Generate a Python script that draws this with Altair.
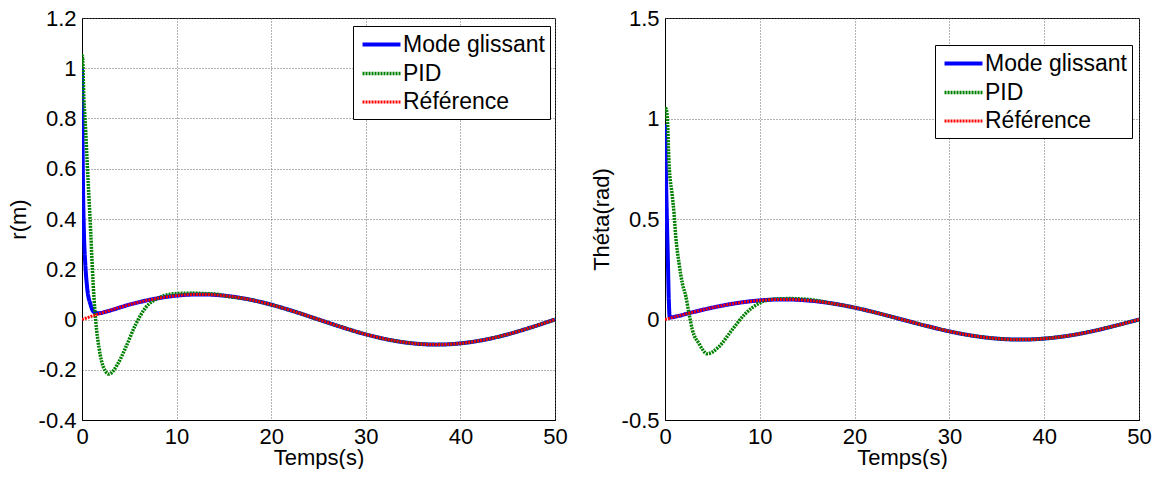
import altair as alt
import pandas as pd

SERIES = ["Mode glissant", "PID", "Référence"]
COLORS = ["#0000ff", "#008000", "#ff0000"]

# Reference trajectory, shared by both panels
ref_t = [0, 1.25, 2.5, 5, 7.5, 10, 12.5, 15, 17.5, 20, 22.5, 25, 27.5, 30,
         32.5, 35, 37.5, 40, 42.5, 45, 47.5, 50]
ref_v = [0.0, 0.016, 0.031, 0.059, 0.081, 0.095, 0.1, 0.095, 0.081, 0.059, 0.031,
         0.0, -0.031, -0.059, -0.081, -0.095, -0.1, -0.095, -0.081, -0.059, -0.031, 0.0]

# Left panel r(m)
r_smc_t = [0, 0.05, 0.1, 0.2, 0.35, 0.55, 0.9, 1.25, 1.8]
r_smc_v = [1.0, 0.75, 0.55, 0.35, 0.22, 0.125, 0.06, 0.03, 0.025]
r_pid_t = [0, 0.04, 0.2, 0.39, 0.56, 0.74, 0.92, 1.1, 1.27, 1.45, 1.8, 2.3, 2.85,
           3.73, 4.6, 5.67, 6.7, 8.1, 9.2, 10.5, 11.6, 13, 14.5]
r_pid_v = [1.0, 1.05, 0.88, 0.75, 0.615, 0.484, 0.35, 0.2, 0.086, -0.006, -0.113,
           -0.193, -0.217, -0.18, -0.113, -0.02, 0.046, 0.086, 0.1, 0.104, 0.105,
           0.103, 0.1]

# Right panel Théta(rad)
th_smc_t = [0, 0.15, 0.3, 0.4, 0.5]
th_smc_v = [0.97, 0.6, 0.3, 0.1, 0.01]
th_pid_t = [0, 0.1, 0.25, 0.42, 0.77, 0.95, 1.13, 1.48, 1.83, 2.2, 2.53, 2.88, 3.59,
            4.46, 5.7, 7.1, 8.5, 9.9, 11.3, 13.1, 15.5]
th_pid_v = [1.0, 1.05, 1.0, 0.78, 0.615, 0.53, 0.415, 0.28, 0.18, 0.115, 0.03,
            -0.05, -0.12, -0.17, -0.135, -0.05, 0.03, 0.08, 0.1, 0.104, 0.098]

FONT = "Liberation Sans"


def tail(t_after):
    return [(t, v) for t, v in zip(ref_t, ref_v) if t > t_after]


def build(smc_t, smc_v, pid_t, pid_v):
    rows = []
    for t, v in list(zip(smc_t, smc_v)) + tail(smc_t[-1]):
        rows.append({"t": t, "v": v, "s": SERIES[0]})
    for t, v in list(zip(pid_t, pid_v)) + tail(pid_t[-1]):
        rows.append({"t": t, "v": v, "s": SERIES[1]})
    for t, v in zip(ref_t, ref_v):
        rows.append({"t": t, "v": v, "s": SERIES[2]})
    return pd.DataFrame(rows)


def legend(lx, ly):
    return alt.Legend(
        title=None, orient="none", legendX=lx, legendY=ly,
        symbolType="M-1.65,0H1.65", symbolSize=529, symbolOffset=10,
        labelFontSize=23, labelFont=FONT,
        labelColor="black", padding=5, rowPadding=3, labelOffset=8,
        strokeColor="black", fillColor="white",
    )


def panel(df, ydom, yvals, ytitle, lx, ly, w, h):
    lg = legend(lx, ly)
    return alt.Chart(df).mark_line(clip=True, interpolate="monotone").encode(
        x=alt.X("t:Q", scale=alt.Scale(domain=[0, 50], nice=False),
                axis=alt.Axis(values=[0, 10, 20, 30, 40, 50], title="Temps(s)")),
        y=alt.Y("v:Q", scale=alt.Scale(domain=ydom, nice=False, zero=False),
                axis=alt.Axis(values=yvals, title=ytitle,
                              labelExpr="toString(round(datum.value*10)/10)")),
        color=alt.Color("s:N", scale=alt.Scale(domain=SERIES, range=COLORS), legend=lg),
        strokeDash=alt.StrokeDash("s:N", scale=alt.Scale(domain=SERIES,
                                  range=[[1, 0], [2, 1], [2, 1]]), legend=lg),
        strokeWidth=alt.StrokeWidth("s:N", scale=alt.Scale(domain=SERIES,
                                    range=[4, 3, 3]), legend=lg),
    ).properties(width=w, height=h)


left = panel(build(r_smc_t, r_smc_v, r_pid_t, r_pid_v), [-0.4, 1.2],
             [-0.4, -0.2, 0, 0.2, 0.4, 0.6, 0.8, 1, 1.2], "r(m)", 271, 8, 473, 402)
right = panel(build(th_smc_t, th_smc_v, th_pid_t, th_pid_v), [-0.5, 1.5],
              [-0.5, 0, 0.5, 1, 1.5], "Théta(rad)", 270, 27, 474, 402)

chart = alt.hconcat(left, right, spacing=21).resolve_scale(
    color="independent", strokeDash="independent", strokeWidth="independent"
).resolve_legend(
    color="independent", strokeDash="independent", strokeWidth="independent"
).properties(
    padding={"left": 6, "top": 6, "right": 2, "bottom": 0}
).configure_view(stroke="black", strokeWidth=1).configure_axis(
    labelFont=FONT, labelFontSize=22, labelColor="black", labelPadding=6,
    labelFlush=False, labelOverlap=False,
    titleFont=FONT, titleFontSize=22, titleFontWeight="normal", titleColor="black",
    domainColor="black", domainWidth=1, ticks=False,
    grid=True, gridColor="#666666", gridDash=[1, 2], gridWidth=1,
).configure_axisX(titlePadding=0).configure_axisY(titlePadding=8)

chart.save("out.html", embed_options={"renderer": "svg", "actions": False})
